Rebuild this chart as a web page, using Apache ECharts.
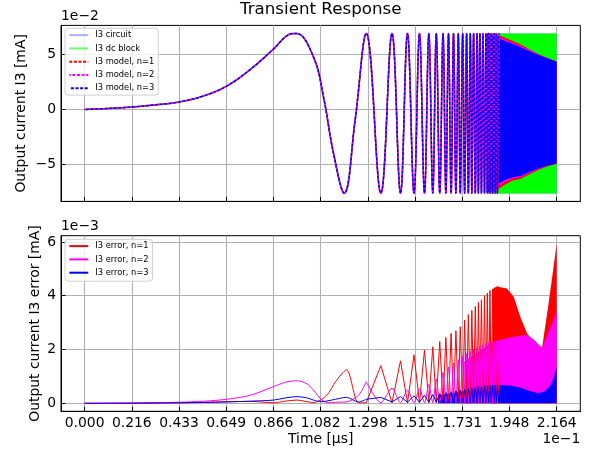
<!DOCTYPE html>
<html><head><meta charset="utf-8">
<script src="https://cdn.jsdelivr.net/npm/echarts@6/dist/echarts.min.js"></script>
<style>html,body{margin:0;padding:0;background:#fff}#c{width:592px;height:455px}</style>
</head><body><div id="c"></div>
<script>
// ---- axis ticks ----
const xTicks = [0, 0.2164, 0.4328, 0.6492, 0.8656, 1.082, 1.2984, 1.5148, 1.7312, 1.9476, 2.164];
const xTickLabels = ['0.000','0.216','0.433','0.649','0.866','1.082','1.298','1.515','1.731','1.948','2.164'];
const yTopTicks = [-5, 0, 5];
const yTopTickLabels = ['\u22125', '0', '5'];
const yBotTicks = [0, 2, 4, 6];
const yBotTickLabels = ['0', '2', '4', '6'];

// ---- top: waveform (x 1e-1 us, y 1e-2 mA), resolvable part: sample points and extrema ----
const waveT = [0, 0.108, 0.216, 0.325, 0.433, 0.541, 0.649, 0.757, 0.866, 0.93, 0.97, 1.049, 1.095, 1.141, 1.19, 1.24, 1.291,
  1.358, 1.409, 1.448, 1.480, 1.510, 1.535, 1.558, 1.578, 1.596, 1.612, 1.628, 1.643, 1.656, 1.668, 1.680, 1.691,
  1.702, 1.713, 1.722, 1.733, 1.742, 1.751, 1.759, 1.768, 1.775, 1.783, 1.791, 1.799, 1.805, 1.812, 1.819, 1.826,
  1.833, 1.840, 1.846, 1.852, 1.858, 1.864, 1.870, 1.877, 1.882, 1.887, 1.892, 1.898];
const waveV = [0, 0.09, 0.22, 0.42, 0.68, 1.2, 2.1, 3.6, 5.5, 6.75, 6.92, 4.78, 1.15, -4.0, -7.62, -0.97, 6.92,
  -7.62, 6.92, -7.62, 6.92, -7.62, 6.92, -7.62, 6.92, -7.62, 6.92, -7.62, 6.92, -7.62, 6.92, -7.62, 6.92,
  -7.62, 6.92, -7.62, 6.92, -7.62, 6.92, -7.62, 6.92, -7.62, 6.92, -7.62, 6.92, -7.62, 6.92, -7.62, 6.92,
  -7.62, 6.92, -7.62, 6.92, -7.62, 6.92, -7.62, 6.92, -7.62, 6.92, -7.62, 6.92];

// ---- top: dense part, envelopes of the oscillation ----
const bandT      = [1.845, 1.87, 1.90, 1.93, 1.96, 2.00, 2.04, 2.08, 2.12, 2.164];
const dcUpper    = [6.92, 6.92, 6.92, 6.92, 6.92, 6.92, 6.92, 6.92, 6.92, 6.92];
const dcLower    = [-7.64, -7.64, -7.64, -7.64, -7.64, -7.64, -7.64, -7.64, -7.64, -7.64];
const n1Upper    = [6.92, 6.92, 6.75, 6.5, 6.25, 5.9, 5.45, 5.05, 4.7, 4.36];
const n1Lower    = [-7.62, -7.5, -7.2, -6.8, -6.5, -6.3, -5.9, -5.5, -5.2, -4.95];
const n2Upper    = [6.92, 6.88, 6.6, 6.35, 6.1, 5.78, 5.38, 5.0, 4.68, 4.35];
const n2Lower    = [-7.62, -7.4, -6.95, -6.55, -6.3, -6.15, -5.78, -5.42, -5.15, -4.93];
const n3Upper    = [6.92, 6.8, 6.45, 6.2, 6.0, 5.67, 5.3, 4.95, 4.65, 4.33];
const n3Lower    = [-7.62, -7.25, -6.75, -6.4, -6.2, -6.05, -5.7, -5.38, -5.12, -4.91];

// ---- bottom: error (x 1e-1 us, y 1e-3 mA), slow part ----
const errT = [0, 0.216, 0.433, 0.55, 0.652, 0.76, 0.866, 0.92, 0.973, 1.02, 1.049, 1.088, 1.12, 1.15, 1.2, 1.256, 1.291];
const errN1 = [0, 0.005, 0.02, 0.04, 0.06, 0.07, 0.02, 0.08, 0.12, 0.06, 0.03, 0.15, 0.4, 0.8, 1.24, 0.02, 0.02];
const errN2 = [0, 0.01, 0.04, 0.08, 0.15, 0.3, 0.62, 0.78, 0.84, 0.72, 0.49, 0.12, 0.02, 0.04, 0.05, 0.3, 0.80];
const errN3 = [0, 0.005, 0.02, 0.03, 0.05, 0.08, 0.12, 0.2, 0.25, 0.2, 0.12, 0.06, 0.1, 0.15, 0.22, 0.05, 0.15];

// ---- bottom: oscillating part, values at the waveform's extrema ----
const combT = [1.291,
  1.358, 1.409, 1.448, 1.480, 1.510, 1.535, 1.558, 1.578, 1.596, 1.612, 1.628, 1.643, 1.656, 1.668, 1.680, 1.691,
  1.702, 1.713, 1.722, 1.733, 1.742, 1.751, 1.759, 1.768, 1.775, 1.783, 1.791, 1.799, 1.805, 1.812, 1.819, 1.826,
  1.833, 1.840, 1.846, 1.852, 1.858, 1.864, 1.870, 1.877, 1.882, 1.887, 1.892, 1.898];
const combN1 = [0.02,
  1.40, 0.02, 1.58, 0.02, 1.80, 0.02, 1.98, 0.02, 2.10, 0.02, 2.30, 0.02, 2.45, 0.02, 2.60, 0.02,
  2.70, 0.02, 2.85, 0.02, 3.10, 0.02, 3.30, 0.02, 3.45, 0.02, 3.60, 0.02, 3.75, 0.02, 3.85, 0.02,
  4.00, 0.02, 4.10, 0.02, 4.20, 0.02, 4.25, 0.02, 4.30, 0.02, 4.34, 0.02];
const combN2 = [0.80,
  0.02, 0.56, 0.02, 0.50, 0.02, 0.55, 0.02, 0.70, 0.02, 0.90, 0.02, 1.15, 0.02, 1.35, 0.02, 1.50,
  0.02, 1.62, 0.02, 1.75, 0.02, 1.85, 0.02, 1.95, 0.02, 2.02, 0.02, 2.08, 0.02, 2.13, 0.02, 2.18,
  0.02, 2.22, 0.02, 2.26, 0.02, 2.29, 0.02, 2.31, 0.02, 2.33, 0.02, 2.34];
const combN3 = [0.15,
  0.22, 0.05, 0.25, 0.04, 0.28, 0.04, 0.30, 0.04, 0.33, 0.04, 0.36, 0.04, 0.40, 0.04, 0.43, 0.04,
  0.46, 0.04, 0.50, 0.04, 0.53, 0.04, 0.55, 0.04, 0.57, 0.04, 0.60, 0.04, 0.62, 0.04, 0.63, 0.04,
  0.65, 0.04, 0.66, 0.04, 0.67, 0.04, 0.68, 0.04, 0.68, 0.04, 0.68, 0.04];

// ---- bottom: dense part, upper envelopes (fill down to 0) ----
const errBandT1 = [1.87, 1.89, 1.936, 1.967, 1.997, 2.028, 2.058, 2.097, 2.127, 2.164];
const errEnvN1  = [4.25, 4.34, 4.27, 3.96, 3.22, 2.60, 2.29, 2.07, 3.72, 5.93];
const errBandT2 = [1.74, 1.80, 1.87, 1.905, 1.95, 2.0, 2.028, 2.058, 2.08, 2.097, 2.137, 2.164];
const errEnvN2  = [1.55, 1.9, 2.25, 2.35, 2.45, 2.52, 2.54, 2.38, 2.2, 2.07, 2.85, 3.42];
const errBandT3 = [1.62, 1.70, 1.80, 1.87, 1.9, 1.95, 2.0, 2.04, 2.081, 2.11, 2.137, 2.15, 2.164];
const errEnvN3  = [0.3, 0.4, 0.55, 0.66, 0.68, 0.66, 0.58, 0.46, 0.37, 0.45, 0.68, 0.95, 1.36];

const FONT = 'DejaVu Sans';
const pairs = (t, v) => t.map((x, i) => [x, v[i]]);
const fmt = (ticks, labels) => v => { const i = ticks.findIndex(x => Math.abs(x - v) < 1e-6); return i >= 0 ? labels[i] : ''; };

function band(t, hi, lo, color, idx) {
  return {
    type: 'custom', xAxisIndex: idx, yAxisIndex: idx, silent: true, clip: true,
    data: [[t[0], hi[0]]],
    renderItem: (p, api) => {
      const up = t.map((x, i) => api.coord([x, hi[i]]));
      const dn = t.map((x, i) => api.coord([x, lo ? lo[i] : 0])).reverse();
      return { type: 'polygon', shape: { points: up.concat(dn) }, style: { fill: color } };
    }
  };
}
function line(name, data, color, width, dashed, idx, offset, smooth) {
  return {
    type: 'line', name, data, xAxisIndex: idx, yAxisIndex: idx, symbol: 'none', smooth: smooth,
    lineStyle: { color, width, type: dashed ? [3, 1.6] : 'solid', dashOffset: offset || 0 },
    itemStyle: { color }, silent: true
  };
}

const axisLineStyle = { show: true, onZero: false, lineStyle: { color: '#000', width: 1 } };
const splitLineStyle = { show: true, lineStyle: { color: '#b0b0b0', width: 1.1 } };
function xAxis(idx, showLabels) {
  return {
    type: 'value', gridIndex: idx, min: -0.1082, max: 2.2722,
    axisLine: axisLineStyle,
    axisTick: { show: true, inside: true, length: 4.5, customValues: xTicks, lineStyle: { color: '#000', width: 1 } },
    splitLine: splitLineStyle,
    axisLabel: { show: showLabels, customValues: xTicks, formatter: fmt(xTicks, xTickLabels), margin: 5,
      color: '#000', fontFamily: FONT, fontSize: 13.9 }
  };
}
function yAxis(idx, min, max, ticks, labels) {
  return {
    type: 'value', gridIndex: idx, min, max,
    axisLine: axisLineStyle,
    axisTick: { show: true, inside: true, length: 4.5, customValues: ticks, lineStyle: { color: '#000', width: 1 } },
    splitLine: splitLineStyle,
    axisLabel: { customValues: ticks, formatter: fmt(ticks, labels), margin: 5, color: '#000', fontFamily: FONT, fontSize: 13.9 }
  };
}
const legendCommon = {
  orient: 'vertical', left: 65, itemWidth: 19, itemHeight: 9, itemGap: 4.3,
  backgroundColor: 'rgba(255,255,255,0.8)', borderColor: '#d0d0d0', borderWidth: 1, borderRadius: 3,
  itemStyle: { opacity: 0 }, selectedMode: false,
  textStyle: { fontFamily: FONT, fontSize: 8.3, color: '#000', lineHeight: 9, padding: [0, 0, 0, 2] }
};

const waveData = pairs(waveT, waveV);
const option = {
  animation: false,
  backgroundColor: '#fff',
  grid: [
    { left: 61, right: 11.7, top: 25.4, height: 176, show: true, borderColor: '#000', borderWidth: 1, backgroundColor: 'transparent' },
    { left: 61, right: 11.7, top: 235.7, height: 175.6, show: true, borderColor: '#000', borderWidth: 1, backgroundColor: 'transparent' }
  ],
  xAxis: [xAxis(0, false), xAxis(1, true)],
  yAxis: [yAxis(0, -8.368, 7.648, yTopTicks, yTopTickLabels), yAxis(1, -0.297, 6.231, yBotTicks, yBotTickLabels)],
  legend: [
    Object.assign({}, legendCommon, { data: ['I3 circuit', 'I3 dc block', 'I3 model, n=1', 'I3 model, n=2', 'I3 model, n=3'],
      top: 28.3, padding: [2.3, 4, 2.3, 3.3] }),
    Object.assign({}, legendCommon, { data: ['I3 error, n=1', 'I3 error, n=2', 'I3 error, n=3'],
      top: 239.3, padding: [2.3, 4, 4, 3.3] })
  ],
  graphic: [
    { type: 'text', x: 320.7, y: 10, style: { text: 'Transient Response', font: '16.7px "DejaVu Sans"', fill: '#000', align: 'center', verticalAlign: 'middle' } },
    { type: 'text', x: 61, y: 16, style: { text: '1e\u22122', font: '13.9px "DejaVu Sans"', fill: '#000', align: 'left', verticalAlign: 'middle' } },
    { type: 'text', x: 61, y: 226, style: { text: '1e\u22123', font: '13.9px "DejaVu Sans"', fill: '#000', align: 'left', verticalAlign: 'middle' } },
    { type: 'text', x: 580.3, y: 439, style: { text: '1e\u22121', font: '13.9px "DejaVu Sans"', fill: '#000', align: 'right', verticalAlign: 'middle' } },
    { type: 'text', x: 320.7, y: 439, style: { text: 'Time [\u00b5s]', font: '13.9px "DejaVu Sans"', fill: '#000', align: 'center', verticalAlign: 'middle' } },
    { type: 'text', x: 21.5, y: 113.4, rotation: Math.PI / 2, style: { text: 'Output current I3 [mA]', font: '13.9px "DejaVu Sans"', fill: '#000', align: 'center', verticalAlign: 'middle' } },
    { type: 'text', x: 35, y: 323.5, rotation: Math.PI / 2, style: { text: 'Output current I3 error [mA]', font: '13.9px "DejaVu Sans"', fill: '#000', align: 'center', verticalAlign: 'middle' } }
  ],
  series: [
    line('I3 circuit', waveData, 'rgba(80,80,255,0.45)', 1.5, false, 0, 0, 0.4),
    band(bandT, dcUpper, dcLower, 'rgba(150,150,255,1)', 0),
    line('I3 dc block', waveData, 'rgba(0,255,0,0.6)', 1.5, false, 0, 0, 0.4),
    band(bandT, dcUpper, dcLower, '#00ff00', 0),
    line('I3 model, n=1', waveData, '#ff0000', 1.5, true, 0, 0, 0.4),
    band(bandT, n1Upper, n1Lower, '#ff0000', 0),
    line('I3 model, n=2', waveData, '#ff00ff', 1.5, true, 0, 1.5, 0.4),
    band(bandT, n2Upper, n2Lower, '#ff00ff', 0),
    line('I3 model, n=3', waveData, '#0000ff', 1.5, true, 0, 3, 0.4),
    band(bandT, n3Upper, n3Lower, '#0000ff', 0),

    line('I3 error, n=1', pairs(errT, errN1), '#ff0000', 1, false, 1, 0, 0.3),
    line('I3 error, n=1', pairs(combT, combN1), '#ff0000', 1, false, 1, 0, false),
    band(errBandT1, errEnvN1, null, '#ff0000', 1),
    line('I3 error, n=2', pairs(errT, errN2), '#ff00ff', 1, false, 1, 0, 0.3),
    band(errBandT2, errEnvN2, null, '#ff00ff', 1),
    line('I3 error, n=2', pairs(combT, combN2), '#ff00ff', 1, false, 1, 0, 0.25),
    line('I3 error, n=3', pairs(errT, errN3), '#0000ff', 1, false, 1, 0, 0.3),
    band(errBandT3, errEnvN3, null, '#0000ff', 1),
    line('I3 error, n=3', pairs(combT, combN3), '#0000ff', 1, false, 1, 0, false)
  ]
};
const chart = echarts.init(document.getElementById('c'), null, { renderer: 'canvas' });
chart.setOption(option);
</script></body></html>
